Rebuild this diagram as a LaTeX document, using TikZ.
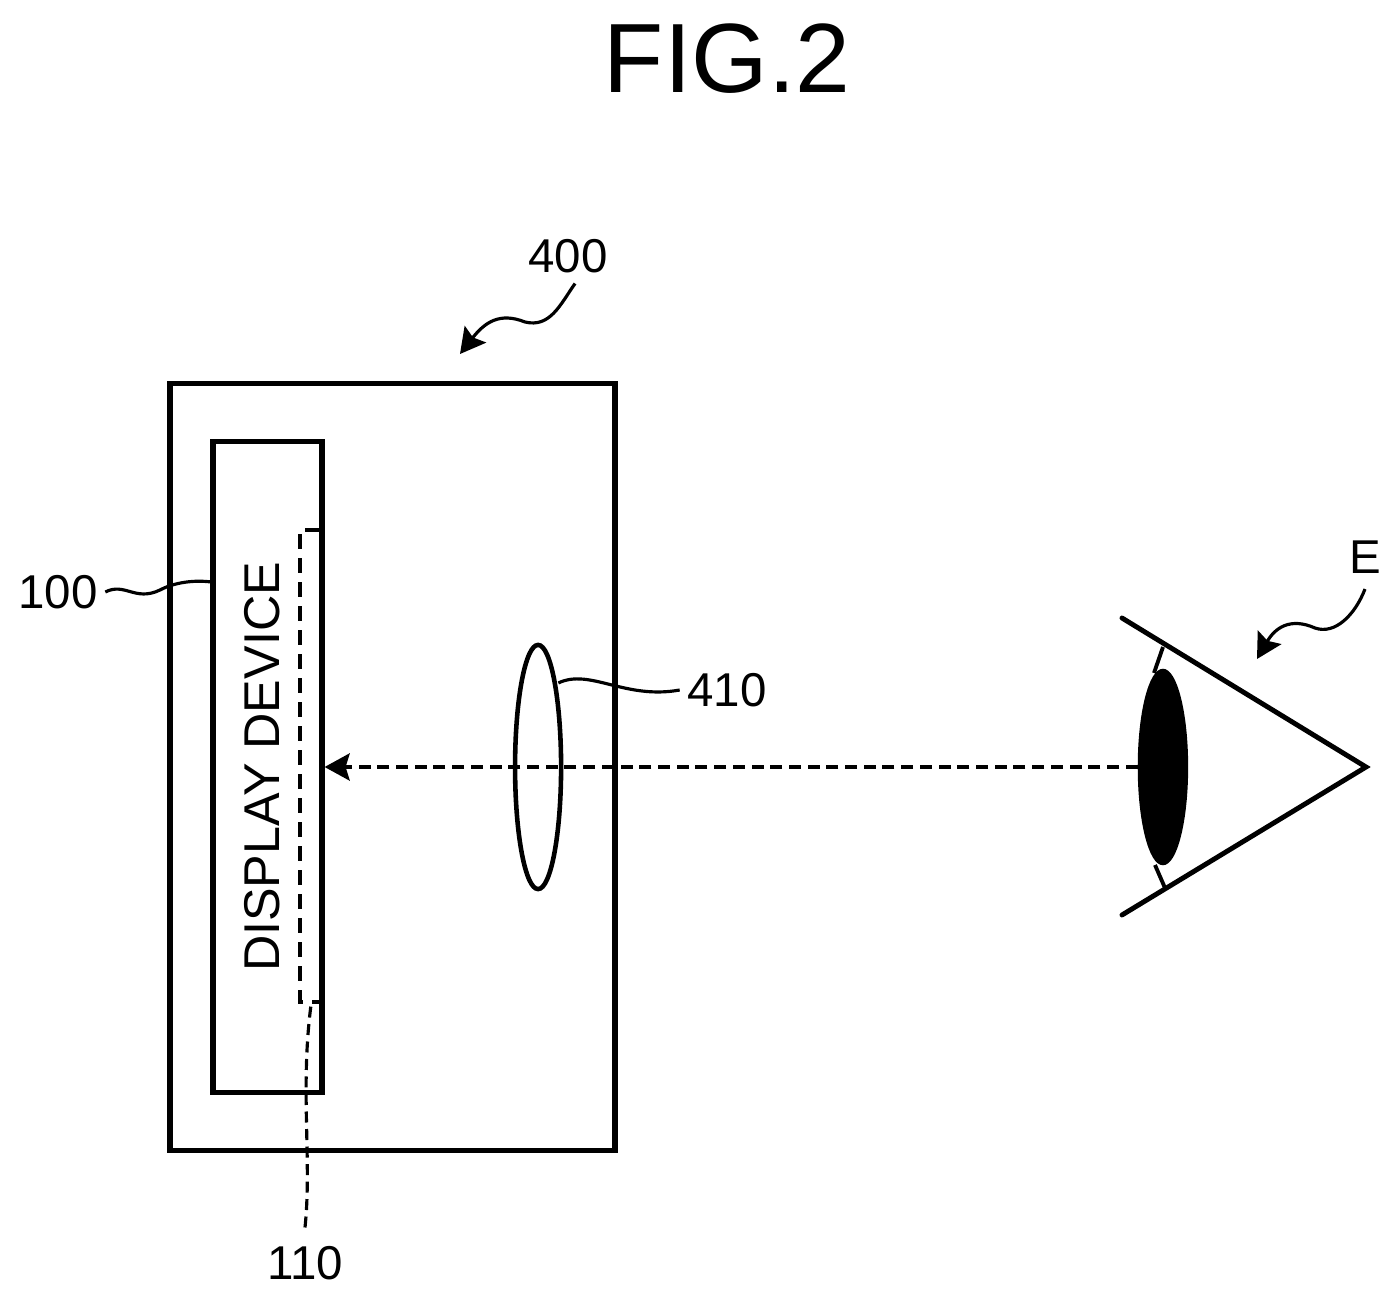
\documentclass[tikz,border=0pt]{standalone}
\usepackage{fontspec}
\setmainfont{Liberation Sans}
\usetikzlibrary{positioning, arrows.meta, shapes.geometric}

\begin{document}
\begin{tikzpicture}[x=0.01cm, y=-0.01cm, on grid, >={Stealth[length=2.5mm, width=2.7mm, inset=0.4mm]}]
      \tikzstyle{box}=[draw, line width=1.5pt, inner sep=0pt]
      \tikzstyle{reflabel}=[inner sep=0pt, font=\fontsize{13.5}{15}\selectfont]
      \tikzstyle{leader}=[line width=0.9pt]
      \tikzstyle{eyeline}=[line width=1.4pt, line cap=round]
      \tikzstyle{axis}=[line width=1.1pt, dash pattern=on 1.2mm off 0.67mm]

      \useasboundingbox (0,0) rectangle (1399,1300);

      % Nodes
      \node[inner sep=0pt, font=\fontsize{28}{30}\selectfont] (fig) at (727,59) {FIG.2};
      \node[box, minimum width=4.45cm, minimum height=7.66cm] (housing) at (392.5,767) {};
      \node[box, minimum width=1.09cm, minimum height=6.5cm]  (display) [left=1.25cm of housing] {};
      \node[inner sep=0pt, rotate=90, font=\fontsize{14.3}{16}\selectfont] (name) at (262,767) {DISPLAY DEVICE};
      \node[draw, ellipse, line width=1.3pt, inner sep=0pt, minimum width=0.46cm, minimum height=2.44cm] (lens) [right=1.455cm of housing] {};

      \node[reflabel] (lab400) at (568,256) {400};
      \node[reflabel] (lab100) at (58,592) {100};
      \node[reflabel] (lab410) at (727,690) {410};
      \node[reflabel] (lab110) at (305,1263) {110};
      \node[reflabel] (labE) at (1365,557) {E};

      \coordinate (area1) at (320,530);
      \coordinate (area2) at (300,530);
      \coordinate (area3) at (300,1002);
      \coordinate (area4) at (320,1002);
      \coordinate (lid1) at (1122,618);
      \coordinate (apex) at (1366,767);
      \coordinate (lid2) at (1122,915);
      \coordinate (cornea1) at (1163,647);
      \coordinate (cornea2) at (1165,888);
      \coordinate (tip400) at (460,354);
      \coordinate (tipE) at (1257,659);
      \coordinate (end110) at (311,1005);

      % Edges
      \draw[line width=1.1pt] (cornea1) -- (1154,673);
      \draw[line width=1.1pt] (1155,865) -- (cornea2);
      \node[draw, ellipse, fill=black, inner sep=0pt, minimum width=0.49cm, minimum height=1.95cm] (pupil) [right=6.245cm of lens] {};
      \draw[axis, ->] (pupil.west) -- (display.east);
      \draw[line width=1pt, dash pattern=on 1.5mm off 0.9mm] (area1) -- (area2) -- (area3) -- (area4);
      \draw[eyeline] (lid1) -- (apex) -- (lid2);
      \draw[leader] ([xshift=0.07cm]lab100.east) .. controls (125,582) and (135,602) .. (160,590) .. controls (175,582) and (195,580) .. ([yshift=1.85cm]display.west);
      \draw[leader] ([xshift=-0.05cm,yshift=0.84cm]lens.east) .. controls (590,668) and (625,700) .. ([xshift=-0.07cm]lab410.west);
      \draw[leader, dash pattern=on 1.1mm off 0.65mm] ([yshift=0.18cm]lab110.north) .. controls (312,1160) and (300,1090) .. (end110);
      \draw[leader, ->] ([xshift=2pt,yshift=-0.1cm]lab400.south) .. controls (560,305) and (550,328) .. (525,322) .. controls (500,312) and (485,322) .. (tip400);
      \draw[leader, ->] ([yshift=-0.15cm]labE.south) .. controls (1355,615) and (1335,635) .. (1315,628) .. controls (1290,617) and (1275,628) .. (tipE);
\end{tikzpicture}
\end{document}
